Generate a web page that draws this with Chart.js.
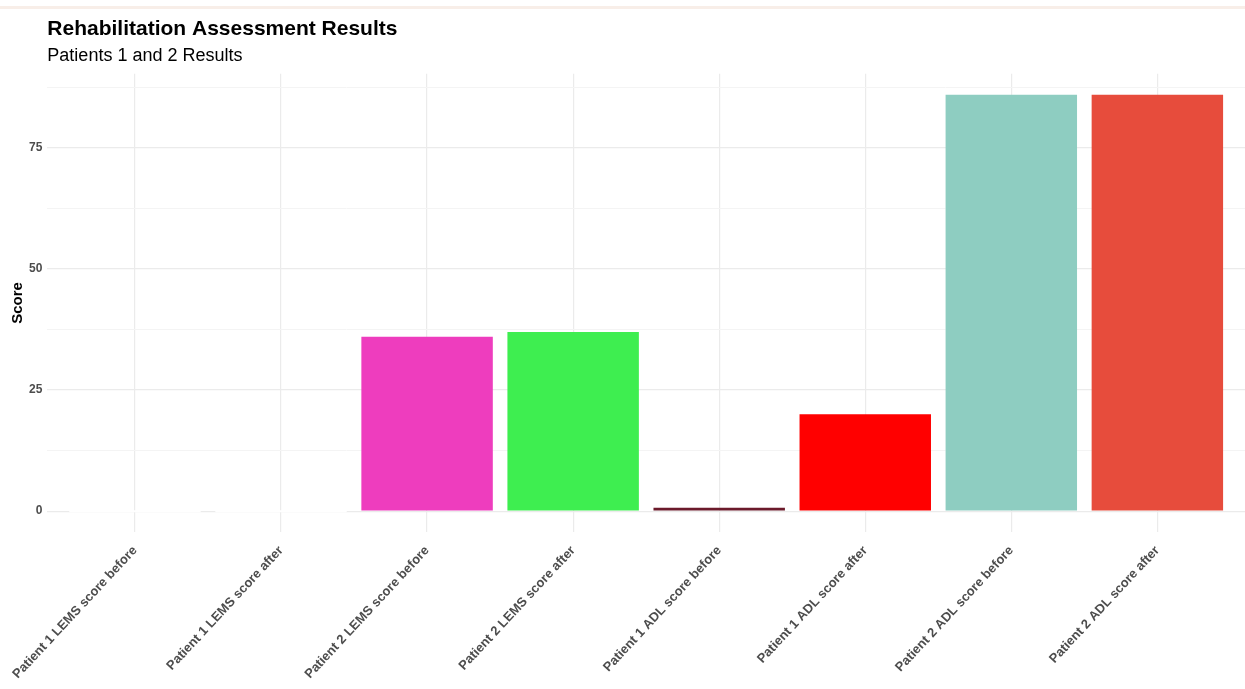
<!DOCTYPE html>
<html>
<head>
<meta charset="utf-8">
<title>Rehabilitation Assessment Results</title>
<script src="https://cdn.jsdelivr.net/npm/chart.js@4"></script>
<style>
    html, body { margin: 0; padding: 0; background: #fff; }
    .top-strip { position: absolute; left: 0; top: 6px; width: 1245px; height: 3px; background: #f8eee8; }
    .chart-wrap { position: relative; width: 1245px; height: 689px; }
</style>
</head>
<body>
<div class="chart-wrap">
    <div class="top-strip"></div>
    <canvas id="scoreChart"></canvas>
</div>
<script>
// Data
const categories = [
    'Patient 1 LEMS score before',
    'Patient 1 LEMS score after',
    'Patient 2 LEMS score before',
    'Patient 2 LEMS score after',
    'Patient 1 ADL score before',
    'Patient 1 ADL score after',
    'Patient 2 ADL score before',
    'Patient 2 ADL score after'
];
const scores = [0, 0, 36, 37, 0.7, 20, 86, 86];
const yTicks = [0, 25, 50, 75];

// Bar fills, same order as categories
const BAR_COLORS = ['#ffffff', '#ffffff', '#ee3dbe', '#3eee50', '#6b1a2b', '#ff0000', '#8ecdc1', '#e74c3c'];

const GRID_MAJOR = '#ebebeb';
const GRID_MINOR = '#f4f4f4';
const AXIS_TEXT = '#4d4d4d';
const FONT = 'Liberation Sans, Arial, sans-serif';

// ggplot style 5% expansion of the data range
const yMin = Math.min(...scores);
const yMax = Math.max(...scores);
const yPad = (yMax - yMin) * 0.05;

function createScoreChart() {
    const ctx = document.getElementById('scoreChart');

    new Chart(ctx, {
        type: 'bar',
        data: {
            datasets: [{
                data: categories.map((c, i) => ({ x: i, y: scores[i] })),
                backgroundColor: BAR_COLORS,
                borderWidth: 0,
                minBarLength: 2,
                barPercentage: 0.9,
                categoryPercentage: 1
            }]
        },
        options: {
            responsive: true,
            maintainAspectRatio: false,
            animation: false,
            layout: { padding: { left: 0, right: 0, top: 0, bottom: -4 } },
            plugins: {
                legend: { display: false },
                tooltip: { enabled: false },
                title: {
                    display: true,
                    text: 'Rehabilitation Assessment Results',
                    align: 'start',
                    fullSize: false,
                    color: '#000',
                    font: { family: FONT, size: 21, weight: 'bold' },
                    padding: { top: 17, bottom: 1 }
                },
                subtitle: {
                    display: true,
                    text: 'Patients 1 and 2 Results',
                    align: 'start',
                    fullSize: false,
                    color: '#000',
                    font: { family: FONT, size: 18 },
                    padding: { top: 2, bottom: 7 }
                }
            },
            scales: {
                x: {
                    type: 'linear',
                    offset: false,
                    min: -0.6,
                    max: categories.length - 1 + 0.6,
                    border: { display: false },
                    grid: {
                        offset: false,
                        color: GRID_MAJOR,
                        lineWidth: 1.2,
                        drawTicks: false
                    },
                    ticks: {
                        stepSize: 1,
                        includeBounds: false,
                        autoSkip: false,
                        minRotation: 47,
                        maxRotation: 47,
                        padding: 11,
                        color: AXIS_TEXT,
                        font: { family: FONT, size: 13, weight: 'bold' },
                        callback: (v) => Number.isInteger(v) ? (categories[v] || '') : ''
                    }
                },
                y: {
                    min: yMin - yPad,
                    max: yMax + yPad,
                    border: { display: false },
                    grid: {
                        drawTicks: false,
                        color: (c) => yTicks.includes(c.tick.value) ? GRID_MAJOR : GRID_MINOR,
                        lineWidth: (c) => yTicks.includes(c.tick.value) ? 1.2 : 1
                    },
                    ticks: {
                        stepSize: 12.5,
                        includeBounds: false,
                        padding: 5,
                        color: AXIS_TEXT,
                        font: { family: FONT, size: 12, weight: 'bold' },
                        callback: (v) => yTicks.includes(v) ? v : ''
                    },
                    title: {
                        display: true,
                        text: 'Score',
                        color: '#000',
                        font: { family: FONT, size: 15, weight: 'bold' },
                        padding: { top: 9, bottom: -3 }
                    }
                }
            }
        }
    });
}

document.addEventListener('DOMContentLoaded', createScoreChart);
</script>
</body>
</html>
